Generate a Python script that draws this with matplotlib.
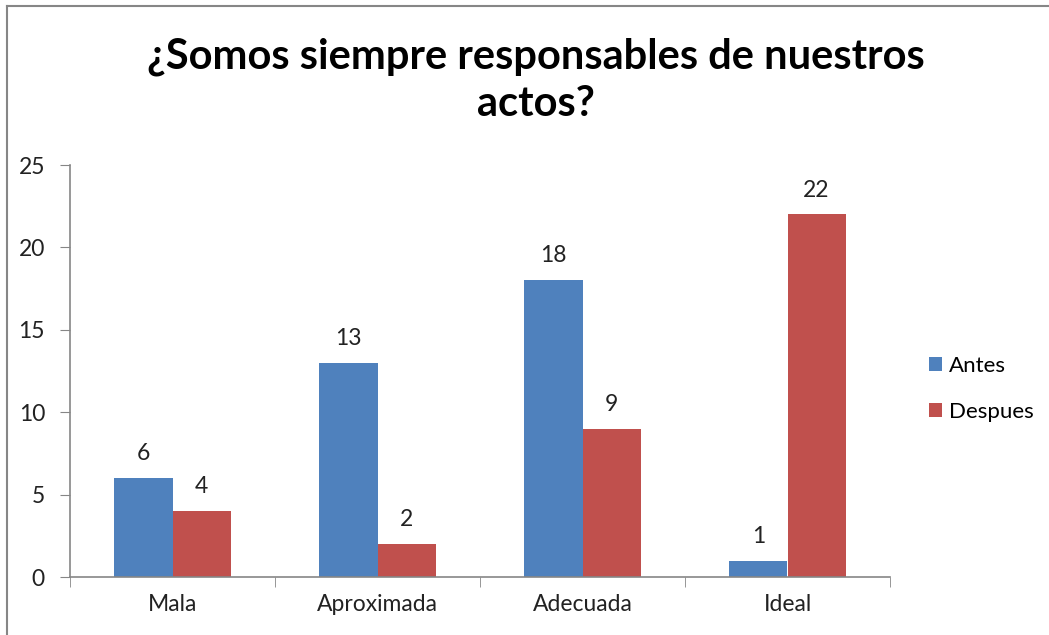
import matplotlib
matplotlib.use("Agg")
import matplotlib.pyplot as plt
from matplotlib.lines import Line2D
import numpy as np

plt.rcParams['font.family'] = ['Lato', 'DejaVu Sans']

categories = ["Mala", "Aproximada", "Adecuada", "Ideal"]
antes = [6, 13, 18, 1]
despues = [4, 2, 9, 22]
series_names = ["Antes", "Despues"]
title = "¿Somos siempre responsables de nuestros\nactos?"

blue = "#4F81BD"
red = "#C0504D"
grey = "#868686"

fig = plt.figure(figsize=(10.49, 6.35), dpi=100)
ax = fig.add_axes([70/1049, 58/635, (890-70)/1049, (577-165)/635])

x = np.arange(len(categories))
w = 0.283
b1 = ax.bar(x - w/2, antes, w, color=blue, label=series_names[0])
b2 = ax.bar(x + w/2, despues, w, color=red, label=series_names[1])

for bars, vals in ((b1, antes), (b2, despues)):
    for r, v in zip(bars, vals):
        ax.annotate(str(v), (r.get_x() + r.get_width()/2, v), xytext=(0, 10),
                    textcoords="offset points", ha="center", va="bottom",
                    fontsize=16.5, color="#222222")

ax.set_xlim(-0.5, len(categories) - 0.5)
ax.set_ylim(0, 25)
ax.set_yticks(range(0, 26, 5))
ax.set_xticks(x)
ax.set_xticklabels(categories, fontsize=16.5, color="#222222")
ax.set_xticks(np.arange(-0.5, len(categories), 1), minor=True)
ax.tick_params(axis="x", which="major", length=0, pad=12)
ax.tick_params(axis="x", which="minor", length=7, color=grey, direction="out")
ax.tick_params(axis="y", length=7, color=grey, labelsize=16.5, labelcolor="#222222", pad=11)
for s in ("top", "right"):
    ax.spines[s].set_visible(False)
for s in ("left", "bottom"):
    ax.spines[s].set_color(grey)
    ax.spines[s].set_linewidth(1.2)

leg = fig.legend(handles=[b1, b2], labels=series_names, loc="center left",
                 bbox_to_anchor=(929/1049, 1 - 389/635), frameon=False, fontsize=16,
                 borderpad=0, borderaxespad=0,
                 handlelength=0.6, handleheight=0.6, handletextpad=0.3, labelspacing=1.15)

fig.text(536/1049, 1 - 80/635, title, ha="center", va="center", fontsize=30,
         fontweight="bold", linespacing=1.3, color="#000000")

# outer chart border
fig.add_artist(Line2D([7/1049, 7/1049], [0, 1 - 6/635], transform=fig.transFigure, color=grey, lw=1.5))
fig.add_artist(Line2D([7/1049, 1], [1 - 6/635, 1 - 6/635], transform=fig.transFigure, color=grey, lw=1.5))

fig.savefig("out.png", dpi=100)
